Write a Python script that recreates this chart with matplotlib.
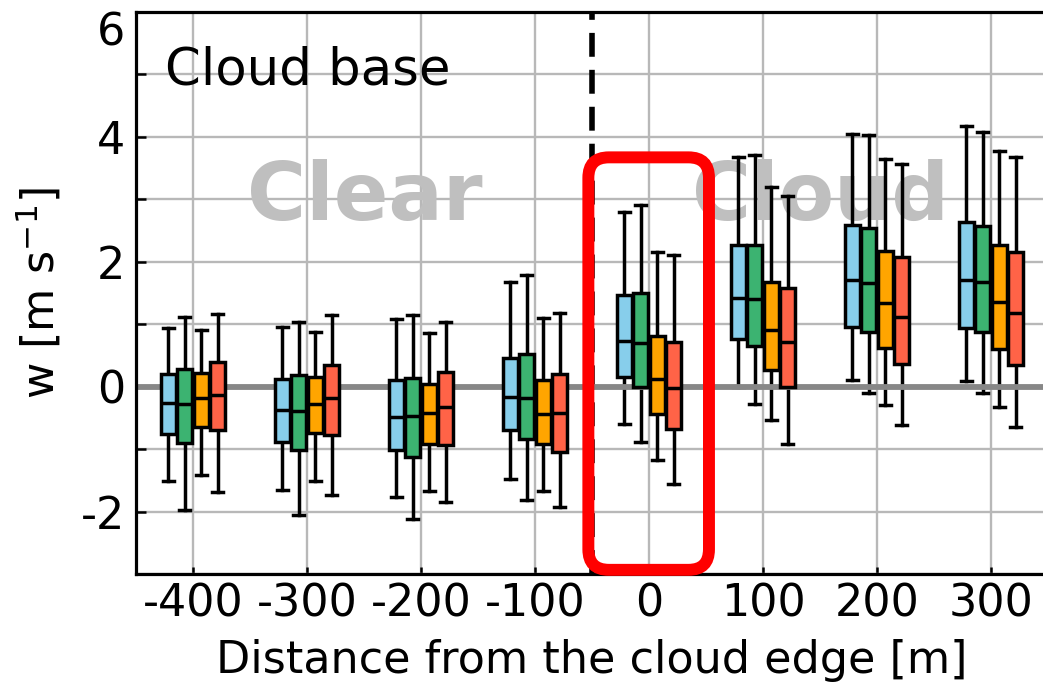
import numpy as np
import matplotlib.pyplot as plt
from matplotlib.patches import FancyBboxPatch

plt.rcParams['font.family'] = ['DejaVu Sans']
plt.rcParams['axes.unicode_minus'] = False

# distance from the cloud edge [m]
distance = [-400, -300, -200, -100, 0, 100, 200, 300]

# (whisker low, Q1, median, Q3, whisker high) for each distance
sky = [(-1.51, -0.76, -0.26, 0.20, 0.94),
       (-1.66, -0.89, -0.38, 0.12, 0.95),
       (-1.77, -1.02, -0.48, 0.10, 1.08),
       (-1.48, -0.69, -0.16, 0.46, 1.67),
       (-0.60, 0.15, 0.73, 1.47, 2.80),
       (0.00, 0.76, 1.42, 2.27, 3.67),
       (0.10, 0.96, 1.71, 2.59, 4.04),
       (0.09, 0.94, 1.71, 2.64, 4.17)]
green = [(-1.97, -0.90, -0.28, 0.28, 1.11),
         (-2.06, -1.02, -0.39, 0.19, 1.03),
         (-2.11, -1.12, -0.47, 0.14, 1.14),
         (-1.82, -0.84, -0.18, 0.52, 1.78),
         (-0.89, 0.00, 0.70, 1.50, 2.91),
         (-0.28, 0.65, 1.40, 2.27, 3.71),
         (-0.10, 0.88, 1.66, 2.54, 4.02),
         (-0.10, 0.87, 1.67, 2.57, 4.08)]
orange = [(-1.42, -0.65, -0.18, 0.22, 0.91),
          (-1.51, -0.74, -0.28, 0.16, 0.87),
          (-1.67, -0.92, -0.42, 0.04, 0.86),
          (-1.67, -0.92, -0.44, 0.11, 1.10),
          (-1.17, -0.44, 0.12, 0.81, 2.15),
          (-0.53, 0.26, 0.91, 1.68, 3.19),
          (-0.29, 0.62, 1.34, 2.17, 3.65),
          (-0.33, 0.60, 1.36, 2.27, 3.77)]
red = [(-1.69, -0.70, -0.14, 0.39, 1.16),
       (-1.73, -0.78, -0.18, 0.34, 1.15),
       (-1.84, -0.93, -0.33, 0.23, 1.04),
       (-1.93, -1.04, -0.42, 0.20, 1.18),
       (-1.56, -0.68, -0.02, 0.72, 2.11),
       (-0.92, 0.00, 0.71, 1.58, 3.05),
       (-0.62, 0.36, 1.12, 2.07, 3.56),
       (-0.65, 0.35, 1.18, 2.15, 3.68)]

series = [sky, green, orange, red]
colors = ['skyblue', 'mediumseagreen', 'orange', 'tomato']
offsets = [-21.6, -7.2, 7.2, 21.6]


fig = plt.figure(figsize=(10.43, 6.94), dpi=100)
ax = fig.add_axes([0.1304, 0.1726, 0.8744, 0.8105])

for data, col, off in zip(series, colors, offsets):
    stats = []
    for d in data:
        stats.append(dict(whislo=d[0], q1=d[1], med=d[2], q3=d[3], whishi=d[4], fliers=[]))
    pos = np.array(distance) + off
    ax.bxp(stats, positions=pos, widths=13.0, capwidths=9.5, patch_artist=True,
           showfliers=False, manage_ticks=False,
           boxprops=dict(facecolor=col, edgecolor='k', linewidth=2.5, zorder=3),
           medianprops=dict(color='k', linewidth=2.5, zorder=3.1),
           whiskerprops=dict(color='k', linewidth=2.5, zorder=2),
           capprops=dict(color='k', linewidth=2.5, zorder=2))

ax.axhline(0, color='#878787', lw=4.2, zorder=2.5)
ax.axvline(-50, color='k', lw=4.0, linestyle=(0, (4.3, 2.35)), zorder=1.8)

ax.text(-425, 4.84, 'Cloud base', fontsize=37, ha='left', va='baseline')
ax.text(-249, 2.67, 'Clear', fontsize=58, fontweight='bold', color='#bfbfbf',
        ha='center', va='baseline', zorder=0.8)
ax.text(150, 2.67, 'Cloud', fontsize=58, fontweight='bold', color='#bfbfbf',
        ha='center', va='baseline', zorder=0.8)

# red frame around the edge group
asp = (1 / 62.5) / (1 / 1.14)
frame = FancyBboxPatch((-53.2, -2.93), 105.8, 6.6,
                       boxstyle='round,pad=0,rounding_size=18',
                       mutation_aspect=asp, fill=False, edgecolor='red',
                       linewidth=8.6, zorder=4, clip_on=False)
ax.add_patch(frame)

ax.set_xlim(-450, 350)
ax.set_ylim(-3, 6)
ax.set_xticks(distance)
ax.set_xticklabels([str(d) for d in distance])
ax.set_yticks([-2, 0, 2, 4, 6])
ax.set_yticklabels(['-2', '0', '2', '4', '6'])
ax.set_yticks([-3, -1, 1, 3, 5], minor=True)
# top label sits just under the frame edge
ax.get_yticklabels()[-1].set_verticalalignment('top')

ax.grid(True, which='major', color='#b8b8b8', lw=1.7, zorder=0)
ax.grid(True, which='minor', axis='y', color='#b8b8b8', lw=1.7, zorder=0)
ax.set_axisbelow(True)

ax.tick_params(axis='both', which='both', direction='in', labelsize=32, width=1.8)
ax.tick_params(axis='y', which='major', length=7, pad=8)
ax.tick_params(axis='y', which='minor', length=7)
ax.tick_params(axis='x', which='major', length=5, pad=6)
for s in ax.spines.values():
    s.set_linewidth(2.3)

ax.set_xlabel('Distance from the cloud edge [m]', fontsize=32, labelpad=10)
ax.set_ylabel(r'w [m s$^{-1}$]', fontsize=32, labelpad=12)

fig.savefig('out.png', dpi=100)
